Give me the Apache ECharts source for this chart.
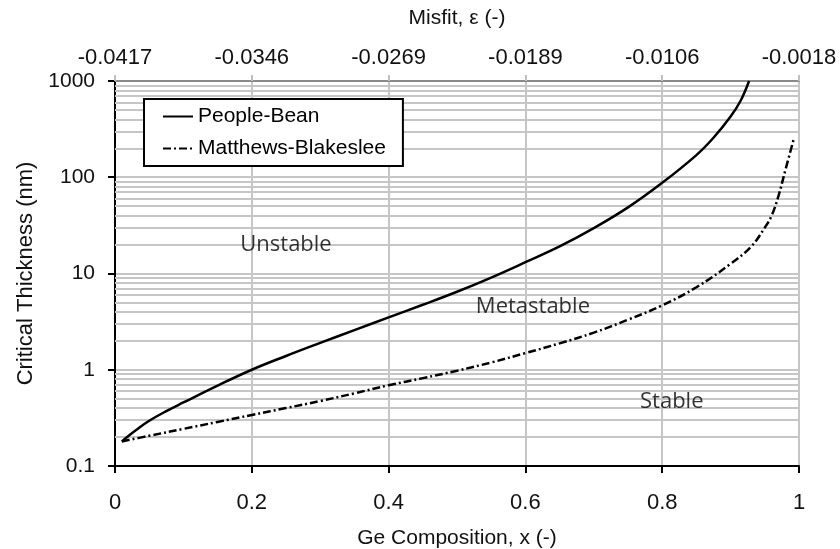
<!DOCTYPE html>
<html>
<head>
<meta charset="utf-8">
<script src="https://cdn.jsdelivr.net/npm/echarts@6/dist/echarts.min.js"></script>
<style>
  html, body { margin: 0; padding: 0; background: #fff; }
  #chart { width: 840px; height: 549px; }
</style>
</head>
<body>
<div id="chart"></div>
<script>
// Ge composition x, critical thickness (nm)
var peopleBean = [
    [0.01, 0.180], [0.02, 0.2065], [0.03, 0.234], [0.05, 0.295], [0.075, 0.372],
    [0.1, 0.457], [0.15, 0.684], [0.2, 1.0], [0.25, 1.39], [0.3, 1.90],
    [0.35, 2.58], [0.4, 3.50], [0.45, 4.73], [0.5, 6.46], [0.55, 9.08],
    [0.6, 13.1], [0.65, 19.1], [0.7, 29.6], [0.75, 48.6], [0.8, 87.5],
    [0.85, 170], [0.875, 257], [0.9, 427], [0.915, 631], [0.927, 1000]
];
var matthewsBlakeslee = [
    [0.01, 0.180], [0.05, 0.206], [0.1, 0.243], [0.15, 0.287], [0.2, 0.339],
    [0.25, 0.40], [0.3, 0.473], [0.35, 0.569], [0.4, 0.69], [0.45, 0.818],
    [0.5, 0.977], [0.55, 1.19], [0.6, 1.49], [0.65, 1.88], [0.7, 2.43],
    [0.75, 3.31], [0.8, 4.67], [0.85, 7.2], [0.9, 12.6], [0.93, 19],
    [0.95, 30], [0.96, 40], [0.97, 64], [0.98, 118], [0.992, 245]
];
// top axis: misfit at x = 0, 0.2, ... 1
var misfitLabels = ['-0.0417', '-0.0346', '-0.0269', '-0.0189', '-0.0106', '-0.0018'];
// minor log grid lines (2..9 in each decade)
var minorGrid = [
    0.2, 0.3, 0.4, 0.5, 0.6, 0.7, 0.8, 0.9,
    2, 3, 4, 5, 6, 7, 8, 9,
    20, 30, 40, 50, 60, 70, 80, 90,
    200, 300, 400, 500, 600, 700, 800, 900
];
// region labels [x, y, text]
var regions = [
    [0.25, 20, 'Unstable'],
    [0.611, 4.55, 'Metastable'],
    [0.814, 0.47, 'Stable']
];

var gridColor = '#c6c6c6';
var font = 'Liberation Sans, Arial, sans-serif';

var chart = echarts.init(document.getElementById('chart'));

var option = {
    animation: false,
    backgroundColor: '#fff',
    grid: {
        left: 115, right: 41, top: 81, bottom: 83,
        outerBoundsMode: 'none',
        containLabel: false,
        show: true,
        borderColor: '#8a8a8a',
        borderWidth: 2
    },
    legend: {
        data: ['People-Bean', 'Matthews-Blakeslee'],
        orient: 'vertical',
        left: 144,
        top: 99,
        itemWidth: 30,
        itemHeight: 10,
        itemGap: 11,
        padding: [7, 17, 7, 18],
        backgroundColor: '#fff',
        borderColor: '#000',
        borderWidth: 2,
        borderRadius: 0,
        itemStyle: { opacity: 0, borderWidth: 0 },
        textStyle: { fontFamily: font, fontSize: 21, color: '#000' }
    },
    xAxis: [{
        type: 'value',
        position: 'bottom',
        min: 0, max: 1, interval: 0.2,
        name: 'Ge Composition, x (-)',
        nameLocation: 'middle',
        nameGap: 62,
        nameTextStyle: { fontFamily: font, fontSize: 21, color: '#111' },
        axisLine: { show: true, lineStyle: { color: '#000', width: 2 } },
        axisTick: { show: true, inside: false, length: 7, lineStyle: { color: '#000', width: 2 } },
        axisLabel: { fontFamily: font, fontSize: 22, color: '#111', margin: 26 },
        splitLine: { show: true, lineStyle: { color: gridColor, width: 2 } }
    }, {
        type: 'value',
        position: 'top',
        min: 0, max: 1, interval: 0.2,
        name: 'Misfit, \u03b5 (-)',
        nameLocation: 'middle',
        nameGap: 52,
        nameTextStyle: { fontFamily: font, fontSize: 21, color: '#111' },
        axisLine: { show: true, lineStyle: { color: '#8a8a8a', width: 2 } },
        axisTick: { show: true, inside: false, length: 6, lineStyle: { color: '#c0c0c0', width: 2 } },
        axisLabel: {
            fontFamily: font, fontSize: 22, color: '#111', margin: 12,
            formatter: function (v) { return misfitLabels[Math.round(v / 0.2)]; }
        },
        splitLine: { show: false }
    }],
    yAxis: {
        type: 'log',
        logBase: 10,
        min: 0.1, max: 1000,
        name: 'Critical Thickness (nm)',
        nameLocation: 'middle',
        nameGap: 77,
        nameTextStyle: { fontFamily: font, fontSize: 22, color: '#111' },
        axisLine: { show: true, lineStyle: { color: '#000', width: 2 } },
        axisTick: { show: true, inside: false, length: 7, lineStyle: { color: '#000', width: 2 } },
        axisLabel: {
            fontFamily: font, fontSize: 21, color: '#111', margin: 20,
            formatter: function (v) { return String(v); }
        },
        splitLine: { show: true, lineStyle: { color: gridColor, width: 2 } },
        minorTick: { show: false },
        minorSplitLine: { show: false }
    },
    series: [{
        name: 'minor',
        type: 'line',
        data: [],
        silent: true,
        markLine: {
            silent: true,
            symbol: 'none',
            z: 1,
            label: { show: false },
            lineStyle: { color: gridColor, width: 2, type: 'solid' },
            data: minorGrid.map(function (v) { return { yAxis: v }; })
        }
    }, {
        name: 'People-Bean',
        type: 'line',
        smooth: 0.4,
        showSymbol: false,
        symbol: 'none',
        z: 3,
        lineStyle: { color: '#000', width: 2.5 },
        itemStyle: { color: '#000' },
        data: peopleBean
    }, {
        name: 'Matthews-Blakeslee',
        type: 'line',
        smooth: 0.4,
        showSymbol: false,
        symbol: 'none',
        z: 3,
        lineStyle: { color: '#000', width: 2.5, type: [8, 3, 2, 3] },
        itemStyle: { color: '#000' },
        data: matthewsBlakeslee
    }, {
        name: 'regions',
        type: 'scatter',
        symbolSize: 0,
        silent: true,
        z: 4,
        label: {
            show: true,
            position: 'inside',
            fontFamily: 'Open Sans, sans-serif',
            fontSize: 22,
            color: '#000',
            formatter: function (p) { return p.data[2]; }
        },
        data: regions
    }]
};

chart.setOption(option);
</script>
</body>
</html>
